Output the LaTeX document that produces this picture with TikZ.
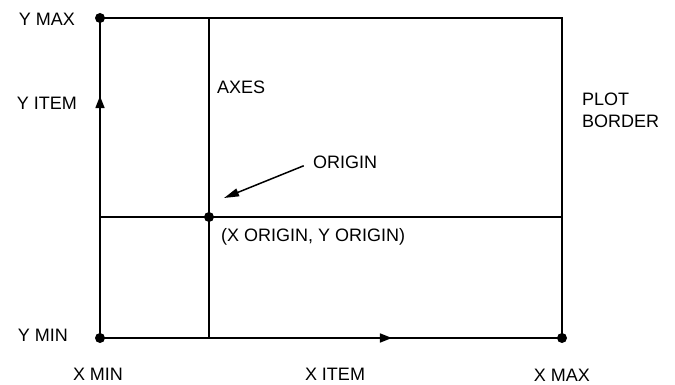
\documentclass[tikz,border=0pt]{standalone}
\usepackage{fontspec}
\setmainfont{Liberation Sans}
\usetikzlibrary{arrows.meta,decorations.markings}
\begin{document}
\begin{tikzpicture}[x=1pt,y=-1pt,
  lab/.style={inner sep=0pt,font=\fontsize{18}{22}\selectfont},
  dotpt/.style={circle,fill=black,inner sep=0pt,minimum size=10pt},
  ln/.style={line width=1.6pt},
  midarrow/.style={postaction={decorate},decoration={markings,
    mark=at position #1 with {\arrow{Triangle[length=12pt,width=9pt]}}}}]
\useasboundingbox (0,0) rectangle (675,385);
% corner and axis coordinates
\coordinate (tl) at (100,18);
\coordinate (tr) at (562,18);
\coordinate (bl) at (100,338);
\coordinate (br) at (562,338);
\coordinate (at) at (209,18);
\coordinate (ab) at (209,338);
\coordinate (ml) at (100,217);
\coordinate (mr) at (562,217);
\coordinate (otip) at (224,198);
% border
\draw[ln] (tl) -- (tr) -- (br);
\draw[ln,midarrow=0.756] (bl) -- (tl);
\draw[ln,midarrow=0.632] (bl) -- (br);
% axes
\draw[ln] (at) -- (ab);
\draw[ln] (ml) -- (mr);
% dots
\node[dotpt] (dtl) at (tl) {};
\node[dotpt] (dbl) at (bl) {};
\node[dotpt] (dbr) at (br) {};
\node[dotpt] (dorg) at (209,217) {};
% labels
\node[lab,anchor=east] (ymax) at (75,19) {Y MAX};
\node[lab,anchor=east] (yitem) at (77,103) {Y ITEM};
\node[lab,anchor=west] (axes) at (217,87) {AXES};
\node[lab,anchor=west,align=left] (border) at (582,110) {PLOT\\BORDER};
\node[lab,anchor=west] (olab) at (313,162) {ORIGIN};
\node[lab,anchor=west] (ocoord) at (221,237) {(X ORIGIN, Y ORIGIN)};
\node[lab,anchor=east] (ymin) at (68,335) {Y MIN};
\node[lab] (xmin) at (98,374) {X MIN};
\node[lab] (xitem) at (335,374) {X ITEM};
\node[lab] (xmax) at (562,375) {X MAX};
% origin pointer
\draw[line width=1.5pt,-{Triangle[length=15pt,width=8pt]},shorten <=10pt] (olab.west) -- (otip);
\end{tikzpicture}
\end{document}
